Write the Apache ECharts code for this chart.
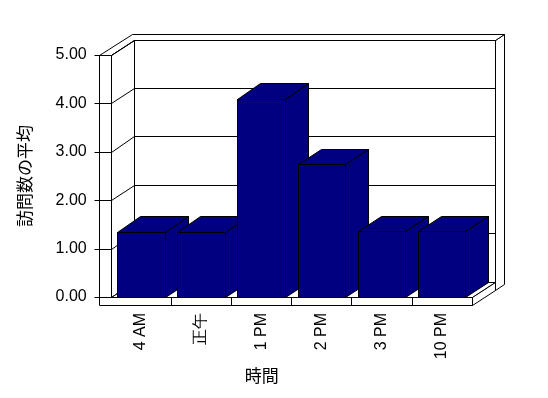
<!DOCTYPE html>
<html>
<head>
<meta charset="utf-8">
<script src="https://cdn.jsdelivr.net/npm/echarts@6/dist/echarts.min.js"></script>
<style>html,body{margin:0;padding:0;background:#fff;}#c{width:548px;height:398px;}</style>
</head>
<body>
<div id="c"></div>
<script>
// ---- data ----
const categories = ['4 AM', '正午', '1 PM', '2 PM', '3 PM', '10 PM'];
const visitAvg = [1.35, 1.35, 4.10, 2.74, 1.36, 1.36];
const yTicks = [0, 1, 2, 3, 4, 5];
const yName = '訪問数の平均';
const xName = '時間';

// ---- style constants ----
const DX = 23, DY = -15.5;     // depth vector of the plot box
const T = 11.7;                // left wall thickness
const FT = 8;                  // floor thickness
const BX = 9.5, BY = -5.3;     // back wall thickness vector
const TK = 5;                  // outer tick length
const BAR = '#000080';
const r = v => Math.round(v) + 0.5;
const P = pts => pts.map(p => [r(p[0]), r(p[1])]);
const poly = (pts, fill) => ({type: 'polygon', shape: {points: P(pts)}, style: {fill: fill, stroke: '#000', lineWidth: 1}});
const line = (x1, y1, x2, y2) => ({type: 'line', shape: {x1: r(x1), y1: r(y1), x2: r(x2), y2: r(y2)}, style: {stroke: '#000', lineWidth: 1}});

function renderFrame(params, api) {
  const n = categories.length;
  const bw = api.size([1, 0])[0];
  const L = api.coord([0, 0])[0] - bw / 2;
  const R = api.coord([n - 1, 0])[0] + bw / 2;
  const yv = v => api.coord([0, v])[1];
  const y0 = yv(yTicks[0]);
  const y5 = yv(yTicks[yTicks.length - 1]);
  const yb = y0 + FT;
  const ch = [];
  ch.push(poly([[R + DX, y5 + DY], [R + DX + BX, y5 + DY + BY], [R + DX + BX, yb + DY + BY], [R + DX, yb + DY]], '#fff'));
  ch.push(poly([[L - T, y5], [L, y5], [L + DX, y5 + DY], [R + DX, y5 + DY], [R + DX + BX, y5 + DY + BY], [L - T + DX + BX, y5 + DY + BY]], '#fff'));
  ch.push(poly([[L + DX, y5 + DY], [R + DX, y5 + DY], [R + DX, y0 + DY], [L + DX, y0 + DY]], '#fff'));
  ch.push(poly([[L, y5], [L + DX, y5 + DY], [L + DX, y0 + DY], [L, y0]], '#fff'));
  yTicks.forEach(v => {
    const y = yv(v);
    ch.push(line(L, y, L + DX, y + DY));
    ch.push(line(L + DX, y + DY, R + DX, y + DY));
  });
  ch.push(poly([[L, y0], [R, y0], [R + DX, y0 + DY], [L + DX, y0 + DY]], '#fff'));
  ch.push(poly([[R, y0], [R + DX, y0 + DY], [R + DX, yb + DY], [R, yb]], '#fff'));
  ch.push(poly([[L - T, y5], [L, y5], [L, y0], [R, y0], [R, yb], [L - T, yb]], '#fff'));
  yTicks.forEach(v => {
    const y = yv(v);
    ch.push(line(L - T - TK, y, L, y));
  });
  for (let i = 1; i < n; i++) {
    const x = L + i * bw;
    ch.push(line(x, y0, x, yb));
  }
  return {type: 'group', children: ch};
}

function renderBar(params, api) {
  const i = api.value(0), v = api.value(1);
  const top = api.coord([i, v]);
  const y0 = api.coord([i, 0])[1];
  const w = api.size([1, 0])[0] * 0.79;
  const xl = top[0] - w / 2, xr = top[0] + w / 2, yt = top[1];
  return {type: 'group', children: [
    poly([[xr, yt], [xr + DX, yt + DY], [xr + DX, y0 + DY], [xr, y0]], BAR),
    poly([[xl, yt], [xl + DX, yt + DY], [xr + DX, yt + DY], [xr, yt]], BAR),
    poly([[xl, yt], [xr, yt], [xr, y0], [xl, y0]], BAR)
  ]};
}

const chart = echarts.init(document.getElementById('c'), null, {renderer: 'canvas'});
const font = 'Liberation Sans, Arial, sans-serif';
const cjk = 'Noto Sans CJK JP, sans-serif';
chart.setOption({
  backgroundColor: '#fff',
  animation: false,
  grid: {left: 110.7, top: 55, width: 361, height: 242},
  xAxis: {
    type: 'category', data: categories,
    axisLine: {show: false}, axisTick: {show: false}, splitLine: {show: false},
    axisLabel: {rotate: 90, margin: 16, color: '#000', fontSize: 16, fontFamily: font},
    name: xName, nameLocation: 'middle', nameGap: 66,
    nameTextStyle: {color: '#000', fontSize: 17, fontFamily: cjk, padding: [0, 59, 0, 0]}
  },
  yAxis: {
    type: 'value', min: 0, max: 5, interval: 1,
    axisLine: {show: false}, axisTick: {show: false}, splitLine: {show: false},
    axisLabel: {margin: 24, color: '#000', fontSize: 16, fontFamily: font, formatter: v => v.toFixed(2)},
    name: yName, nameLocation: 'middle', nameGap: 78, nameRotate: 90,
    nameTextStyle: {color: '#000', fontSize: 17, fontFamily: cjk}
  },
  series: [
    {type: 'custom', z: 1, clip: false, silent: true, renderItem: renderFrame, data: [[0, 0]]},
    {type: 'custom', z: 3, clip: false, renderItem: renderBar,
     data: visitAvg.map((v, i) => [i, v])}
  ]
});
</script>
</body>
</html>
